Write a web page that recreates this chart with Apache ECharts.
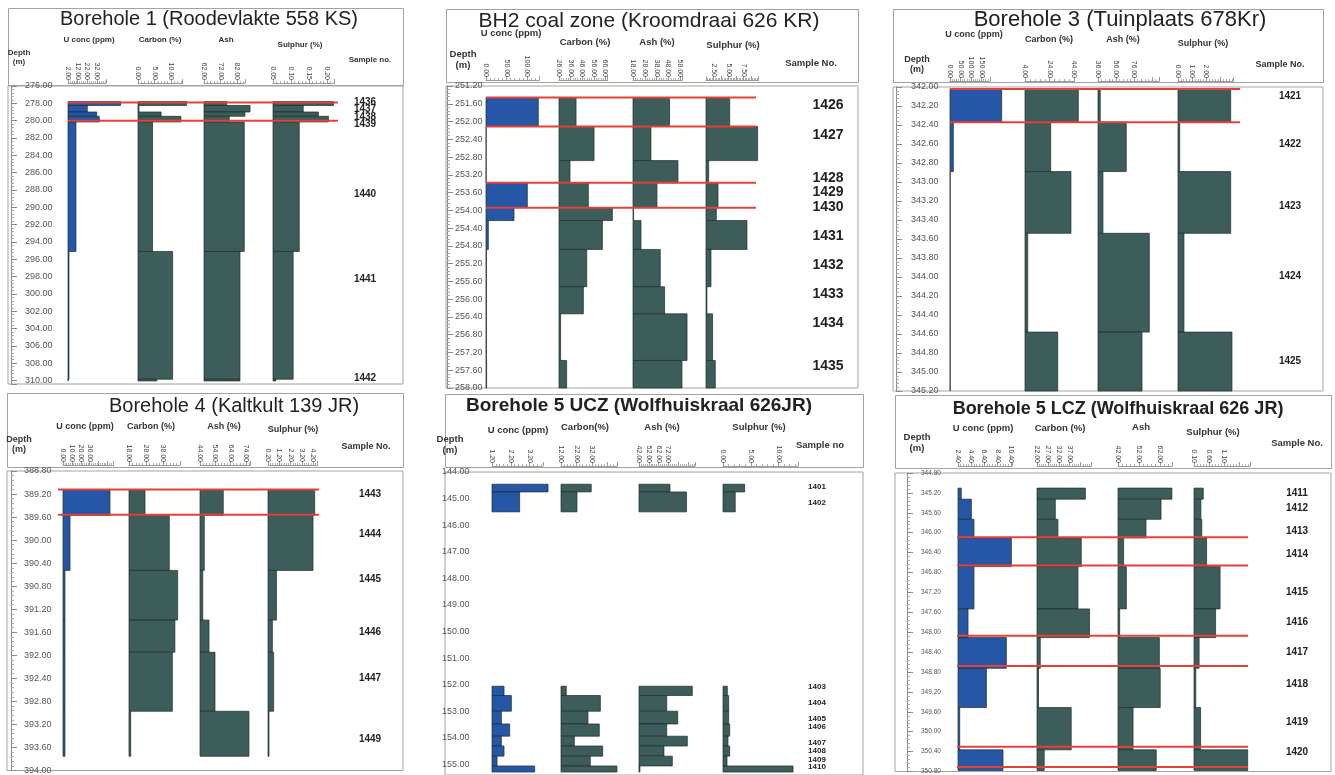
<!DOCTYPE html>
<html>
<head>
<meta charset="utf-8">
<title>Borehole logs</title>
<script src="https://cdn.jsdelivr.net/npm/echarts@6/dist/echarts.min.js"></script>
<style>
  html, body { margin: 0; padding: 0; background: #fff; }
  #main { width: 1335px; height: 775px; }
</style>
</head>
<body>
<div id="main"></div>
<script>
// Borehole 1 (Roodevlakte 558 KS)
var bh1Samples = ['1436', '1437', '1438', '1439', '1440', '1441', '1442'];
var bh1Top = [277.8, 278.25, 279.0, 279.5, 280.15, 295.1, 309.85];
var bh1Bottom = [278.25, 279.0, 279.5, 280.15, 295.1, 309.85, 310.05];
var bh1U = [56.3, 21.9, 31.6, 34.3, 10.2, 3.0, 2.2];
var bh1Carbon = [14.7, 0.3, 7.0, 13.0, 4.4, 10.5, 5.7];
var bh1Ash = [75.7, 89.9, 86.8, 77.3, 86.4, 83.8, 83.8];
var bh1Sulphur = [0.218, 0.134, 0.176, 0.204, 0.123, 0.106, 0.058];
var bh1LabelDepth = [277.85, 278.73, 279.58, 280.46, 288.54, 298.27, 309.7];
var bh1Cuts = [277.9, 280.0];
var bh1UTicks = [2, 12, 22, 32];
var bh1CarbonTicks = [0, 5, 10];
var bh1AshTicks = [62, 72, 82];
var bh1SulphurTicks = [0.05, 0.1, 0.15, 0.2];

// BH2 coal zone (Kroomdraai 626 KR)
var bh2Samples = ['1426', '1427', '1428', '1429', '1430', '1431', '1432', '1433', '1434', '1435'];
var bh2Top = [251.46, 252.11, 252.88, 253.38, 253.94, 254.23, 254.88, 255.72, 256.33, 257.38];
var bh2Bottom = [252.11, 252.88, 253.38, 253.94, 254.23, 254.88, 255.72, 256.33, 257.38, 258.0];
var bh2U = [127.6, 0.5, 0.5, 100.8, 68.3, 5.7, 1.0, 1.0, 1.0, 1.5];
var bh2Carbon = [40.7, 56.2, 35.5, 51.3, 72.0, 63.4, 49.9, 47.0, 27.4, 32.6];
var bh2Ash = [49.0, 33.2, 56.1, 38.3, 18.5, 24.8, 41.1, 44.8, 63.8, 59.5];
var bh2Sulphur = [5.2, 9.85, 1.7, 3.25, 2.97, 8.08, 2.08, 1.4, 2.35, 2.8];
var bh2LabelDepth = [251.64, 252.3, 253.27, 253.59, 253.92, 254.58, 255.23, 255.88, 256.53, 257.5];
var bh2Cuts = [251.46, 252.11, 253.38, 253.94];
var bh2UTicks = [0, 50, 100];
var bh2CarbonTicks = [26, 36, 46, 56, 66];
var bh2AshTicks = [18, 28, 38, 48, 58];
var bh2SulphurTicks = [2.5, 5, 7.5];

// Borehole 3 (Tuinplaats 678Kr)
var bh3Samples = ['1421', '1422', '1423', '1424', '1425'];
var bh3Top = [342.02, 342.37, 342.89, 343.54, 344.58];
var bh3Bottom = [342.37, 342.89, 343.54, 344.58, 345.2];
var bh3U = [246, 16, 1, 1, 1];
var bh3Carbon = [47.2, 24.8, 41.2, 6.2, 30.5];
var bh3Ash = [38.5, 67.4, 41.5, 93.0, 84.9];
var bh3Sulphur = [3.71, 0.12, 3.71, 0.42, 3.8];
var bh3LabelDepth = [342.1, 342.6, 343.25, 343.99, 344.89];
var bh3Cuts = [342.02, 342.37];
var bh3UTicks = [0, 50, 100, 150];
var bh3CarbonTicks = [4, 24, 44];
var bh3AshTicks = [36, 56, 76];
var bh3SulphurTicks = [0, 1, 2];

// Borehole 4 (Kaltkult 139 JR)
var bh4Samples = ['1443', '1444', '1445', '1446', '1447', '1449'];
var bh4Top = [389.12, 389.56, 390.5, 391.35, 391.9, 392.91];
var bh4Bottom = [389.56, 390.5, 391.35, 391.9, 392.91, 393.68];
var bh4U = [52.8, 7.9, 2.2, 2.2, 2.2, 2.2];
var bh4Carbon = [27.4, 41.7, 46.6, 45.0, 43.5, 19.0];
var bh4Ash = [59.2, 46.8, 45.8, 49.9, 53.8, 76.0];
var bh4Sulphur = [4.35, 4.2, 0.95, 0.59, 0.7, 0.29];
var bh4LabelDepth = [389.21, 389.89, 390.68, 391.6, 392.4, 393.46];
var bh4Cuts = [389.12, 389.56];
var bh4UTicks = [0, 10, 20, 30];
var bh4CarbonTicks = [18, 28, 38];
var bh4AshTicks = [44, 54, 64, 74];
var bh4SulphurTicks = [0.2, 1.2, 2.2, 3.2, 4.2];

// Borehole 5 UCZ (Wolfhuiskraal 626JR)
var bh5uSamples = ['1401', '1402', '1403', '1404', '1405', '1406', '1407', '1408', '1409', '1410'];
var bh5uTop = [144.46, 144.75, 152.06, 152.41, 153.0, 153.48, 153.94, 154.31, 154.69, 155.06];
var bh5uBottom = [144.75, 145.5, 152.41, 153.0, 153.48, 153.94, 154.31, 154.69, 155.06, 155.29];
var bh5uU = [4.18, 2.67, 1.84, 2.23, 1.7, 2.14, 1.7, 1.84, 1.47, 3.47];
var bh5uCarbon = [31.5, 22.3, 15.4, 37.4, 29.4, 36.7, 20.6, 38.9, 30.9, 48.1];
var bh5uAsh = [73.6, 90.5, 96.4, 70.3, 81.5, 70.3, 91.3, 67.5, 76.0, 43.0];
var bh5uSulphur = [3.9, 2.2, 0.78, 1.02, 1.02, 1.2, 0.9, 1.2, 0.72, 12.6];
var bh5uLabelDepth = [144.56, 145.16, 152.1, 152.69, 153.29, 153.6, 154.19, 154.5, 154.81, 155.09];
var bh5uCuts = [];
var bh5uUTicks = [1.2, 2.2, 3.2];
var bh5uCarbonTicks = [12, 22, 32];
var bh5uAshTicks = [42, 52, 62, 72];
var bh5uSulphurTicks = [0, 5, 10];

// Borehole 5 LCZ (Wolfhuiskraal 626 JR)
var bh5lSamples = ['1411', '1412', '1413', '1414', '1415', '1416', '1417', '1418', '1419', '1420'];
var bh5lTop = [345.1, 345.32, 345.72, 346.09, 346.66, 347.5, 348.07, 348.68, 349.46, 350.3];
var bh5lBottom = [345.32, 345.72, 346.09, 346.66, 347.5, 348.07, 348.68, 349.46, 350.3, 350.71];
var bh5lU = [2.9, 4.43, 4.82, 10.49, 4.82, 3.92, 9.73, 6.7, 2.66, 9.22];
var bh5lCarbon = [44.2, 30.4, 31.6, 42.3, 40.8, 46.1, 23.5, 22.7, 37.7, 25.3];
var bh5lAsh = [67.8, 62.6, 55.4, 44.7, 46.0, 42.8, 61.8, 62.2, 49.2, 60.3];
var bh5lSulphur = [0.41, 0.33, 0.36, 0.52, 0.97, 0.82, 0.27, 0.16, 0.32, 1.89];
var bh5lLabelDepth = [345.2, 345.51, 345.97, 346.43, 347.2, 347.81, 348.41, 349.04, 349.8, 350.41];
var bh5lCuts = [346.09, 346.66, 348.07, 348.68, 350.3, 350.71];
var bh5lUTicks = [2.4, 4.4, 6.4, 8.4, 10.4];
var bh5lCarbonTicks = [22, 27, 32, 37];
var bh5lAshTicks = [42, 52, 62];
var bh5lSulphurTicks = [0.1, 0.6, 1.1];

// ---------- layout ----------
// cols: [left px, px per unit, axis min, axis max, tick step]
var panels = [
  {
    title: 'Borehole 1 (Roodevlakte 558 KS)', titleAt: [209, 19], titleFont: '20px',
    head: [8, 8, 395, 77], plot: [8, 86, 395, 298],
    depth: [276, 310.4, 2], axisOffset: -3, axisMargin: 14, depthSize: 9, axisLine: true,
    heads: [['U conc (ppm)', 89, 40], ['Carbon (%)', 160, 40], ['Ash', 226, 40], ['Sulphur (%)', 300, 45], ['Sample no.', 370, 60], ['Depth\n(m)', 19, 57]],
    headSize: 8, tickSize: 7, rulerGap: 3,
    cols: [[68, 0.97, 2, 41, 10], [138, 3.3, 0, 13.5, 5], [204, 1.65, 62, 87, 10], [273, 360, 0.05, 0.22, 0.05]],
    sampleX: 365, sampleSize: 10, cutX: [68, 338],
    samples: bh1Samples, top: bh1Top, bottom: bh1Bottom, labelDepth: bh1LabelDepth, cuts: bh1Cuts,
    values: [bh1U, bh1Carbon, bh1Ash, bh1Sulphur],
    ticks: [bh1UTicks, bh1CarbonTicks, bh1AshTicks, bh1SulphurTicks]
  },
  {
    title: 'BH2 coal zone (Kroomdraai 626 KR)', titleAt: [649, 21], titleFont: '21px',
    head: [446, 9, 412, 73], plot: [446, 86, 412, 302],
    depth: [251.2, 258.0, 0.4], axisOffset: -1, axisMargin: 8, depthSize: 9, axisLine: true,
    heads: [['U conc (ppm)', 511, 33], ['Carbon (%)', 585, 42], ['Ash (%)', 657, 42], ['Sulphur (%)', 733, 45], ['Sample No.', 811, 63], ['Depth\n(m)', 463, 60]],
    headSize: 9.5, tickSize: 7, rulerGap: 6,
    cols: [[486, 0.41, 0, 130, 50], [559, 1.16, 26, 68, 10], [633, 1.18, 18, 60, 10], [706, 6, 1.25, 10, 1.25]],
    sampleX: 828, sampleSize: 14, cutX: [486, 756],
    samples: bh2Samples, top: bh2Top, bottom: bh2Bottom, labelDepth: bh2LabelDepth, cuts: bh2Cuts,
    values: [bh2U, bh2Carbon, bh2Ash, bh2Sulphur],
    ticks: [bh2UTicks, bh2CarbonTicks, bh2AshTicks, bh2SulphurTicks]
  },
  {
    title: 'Borehole 3 (Tuinplaats 678Kr)', titleAt: [1120, 20], titleFont: '22px',
    head: [893, 9, 430, 73], plot: [893, 87, 430, 304],
    depth: [342.0, 345.2, 0.2], axisOffset: -3, axisMargin: 15, depthSize: 9, axisLine: true,
    heads: [['U conc (ppm)', 974, 35], ['Carbon (%)', 1049, 40], ['Ash (%)', 1123, 40], ['Sulphur (%)', 1203, 44], ['Sample No.', 1280, 65], ['Depth\n(m)', 917, 65]],
    headSize: 9, tickSize: 7, rulerGap: 6,
    cols: [[950, 0.21, 0, 190, 50], [1025, 1.235, 4, 44, 20], [1098, 0.9, 36, 104, 20], [1178, 14.2, 0, 3.9, 1]],
    sampleX: 1290, sampleSize: 10, cutX: [950, 1240],
    samples: bh3Samples, top: bh3Top, bottom: bh3Bottom, labelDepth: bh3LabelDepth, cuts: bh3Cuts,
    values: [bh3U, bh3Carbon, bh3Ash, bh3Sulphur],
    ticks: [bh3UTicks, bh3CarbonTicks, bh3AshTicks, bh3SulphurTicks]
  },
  {
    title: 'Borehole 4 (Kaltkult 139 JR)', titleAt: [234, 406], titleFont: '20px',
    head: [7, 393, 396, 74], plot: [7, 471, 396, 306],
    depth: [388.8, 394.0, 0.4], axisOffset: -4, axisMargin: 13, depthSize: 9, axisLine: true,
    heads: [['U conc (ppm)', 85, 427], ['Carbon (%)', 151, 427], ['Ash (%)', 224, 427], ['Sulphur (%)', 293, 430], ['Sample No.', 366, 447], ['Depth\n(m)', 19, 445]],
    headSize: 9, tickSize: 7, rulerGap: 6,
    cols: [[63, 0.89, 0, 57, 10], [129, 1.7, 18, 48, 10], [200, 1.53, 44, 77, 10], [268, 11.25, 0.2, 4.6, 1]],
    sampleX: 370, sampleSize: 10, cutX: [58, 319],
    samples: bh4Samples, top: bh4Top, bottom: bh4Bottom, labelDepth: bh4LabelDepth, cuts: bh4Cuts,
    values: [bh4U, bh4Carbon, bh4Ash, bh4Sulphur],
    ticks: [bh4UTicks, bh4CarbonTicks, bh4AshTicks, bh4SulphurTicks]
  },
  {
    title: 'Borehole 5 UCZ (Wolfhuiskraal 626JR)', titleAt: [639, 406], titleFont: 'bold 19px',
    head: [445, 394, 418, 73], plot: [445, 472, 418, 304],
    depth: [144, 155.4, 1], axisOffset: 3, axisMargin: 0, depthSize: 9, axisLine: false,
    heads: [['U conc (ppm)', 518, 430], ['Carbon(%)', 585, 427], ['Ash (%)', 662, 427], ['Sulphur (%)', 759, 427], ['Sample no', 820, 445], ['Depth\n(m)', 450, 445]],
    headSize: 9.5, tickSize: 7, rulerGap: 6,
    cols: [[492, 18.8, 1.2, 3.9, 1], [561, 1.55, 12, 48, 10], [639, 0.98, 42, 99, 10], [723, 5.56, 0, 13.5, 5]],
    sampleX: 817, sampleSize: 8, cutX: [492, 800],
    samples: bh5uSamples, top: bh5uTop, bottom: bh5uBottom, labelDepth: bh5uLabelDepth, cuts: bh5uCuts,
    values: [bh5uU, bh5uCarbon, bh5uAsh, bh5uSulphur],
    ticks: [bh5uUTicks, bh5uCarbonTicks, bh5uAshTicks, bh5uSulphurTicks]
  },
  {
    title: 'Borehole 5 LCZ (Wolfhuiskraal 626 JR)', titleAt: [1118, 409], titleFont: 'bold 18px',
    head: [895, 395, 436, 73], plot: [895, 473, 436, 305],
    depth: [344.8, 350.8, 0.4], axisOffset: -12, axisMargin: 14, depthSize: 6.5, axisLine: true,
    heads: [['U conc (ppm)', 983, 428], ['Carbon (%)', 1060, 428], ['Ash', 1141, 427], ['Sulphur (%)', 1213, 432], ['Sample No.', 1297, 443], ['Depth\n(m)', 917, 443]],
    headSize: 9.5, tickSize: 7, rulerGap: 7,
    cols: [[958, 6.6, 2.4, 10.6, 2], [1037, 2.18, 22, 47, 5], [1118, 2.09, 42, 68, 10], [1194, 30, 0.1, 1.97, 0.5]],
    sampleX: 1297, sampleSize: 10, cutX: [957, 1248],
    samples: bh5lSamples, top: bh5lTop, bottom: bh5lBottom, labelDepth: bh5lLabelDepth, cuts: bh5lCuts,
    values: [bh5lU, bh5lCarbon, bh5lAsh, bh5lSulphur],
    ticks: [bh5lUTicks, bh5lCarbonTicks, bh5lAshTicks, bh5lSulphurTicks]
  }
];

var FONT = '"Liberation Sans", Arial, sans-serif';
var BLUE = '#2657a6';
var TEAL = '#3d5d5a';
var EDGE = '#1e2c2b';
var RED = '#e5413b';
var FRAME = '#a3a3a3';

function depthLabels(d) {
  var out = [];
  var n = Math.floor((d[1] - d[0]) / d[2] + 1e-6);
  for (var i = 0; i <= n; i++) out.push(+(d[0] + i * d[2]).toFixed(4));
  return out;
}

function barRenderer(min, color) {
  return function (params, api) {
    var a = api.coord([min, api.value(0)]);
    var b = api.coord([api.value(2), api.value(1)]);
    return {
      type: 'rect',
      shape: { x: a[0], y: a[1], width: b[0] - a[0], height: b[1] - a[1] },
      style: { fill: color, stroke: EDGE, lineWidth: 0.7 }
    };
  };
}

var grids = [], xAxes = [], yAxes = [], series = [], graphics = [];

panels.forEach(function (p) {
  var px = p.plot[0], py = p.plot[1], pw = p.plot[2], ph = p.plot[3];

  // header frame, title and column headings
  graphics.push({
    type: 'rect', silent: true,
    shape: { x: p.head[0] + 0.5, y: p.head[1] + 0.5, width: p.head[2], height: p.head[3] },
    style: { fill: 'none', stroke: FRAME, lineWidth: 1 }
  });
  graphics.push({
    type: 'text', x: p.titleAt[0], y: p.titleAt[1],
    style: { text: p.title, font: p.titleFont + ' ' + FONT, fill: '#222',
      align: 'center', verticalAlign: 'middle', textAlign: 'center', textVerticalAlign: 'middle' }
  });
  p.heads.forEach(function (h) {
    graphics.push({
      type: 'text', x: h[1], y: h[2],
      style: { text: h[0], font: 'bold ' + p.headSize + 'px ' + FONT, fill: '#333',
        align: 'center', verticalAlign: 'middle', textAlign: 'center', textVerticalAlign: 'middle', lineHeight: p.headSize + 1 }
    });
  });

  // panel frame with the depth axis, cut lines and sample numbers
  var gi = grids.length;
  grids.push({ left: px, top: py, width: pw, height: ph, show: true, borderColor: FRAME, borderWidth: 1, backgroundColor: 'transparent' });
  xAxes.push({ gridIndex: gi, type: 'value', min: 0, max: pw, show: false });
  yAxes.push({
    gridIndex: gi, type: 'value', inverse: true,
    min: p.depth[0], max: p.depth[1], interval: p.depth[2],
    position: 'left', offset: p.axisOffset,
    axisLine: { show: p.axisLine, lineStyle: { color: '#8a8a8a' } },
    axisTick: { show: p.axisLine, inside: true, length: 6, lineStyle: { color: '#8a8a8a' } },
    minorTick: { show: p.axisLine, splitNumber: 5, length: 3, lineStyle: { color: '#aaa' } },
    axisLabel: { inside: true, margin: p.axisMargin, fontSize: p.depthSize, color: '#555', fontFamily: FONT,
      customValues: depthLabels(p.depth), formatter: function (v) { return v.toFixed(2); } },
    splitLine: { show: false }
  });

  // bars, one grid per column
  p.cols.forEach(function (c, k) {
    var ci = grids.length;
    grids.push({ left: c[0], top: py, width: (c[3] - c[2]) * c[1], height: ph });
    xAxes.push({
      gridIndex: ci, type: 'value', position: 'top', offset: p.rulerGap,
      min: c[2], max: c[3], interval: c[4],
      axisLine: { show: true, lineStyle: { color: '#9a9a9a', width: 1 } },
      axisTick: { show: true, length: 4, lineStyle: { color: '#9a9a9a' } },
      minorTick: { show: true, splitNumber: 5, length: 2, lineStyle: { color: '#b0b0b0' } },
      axisLabel: { customValues: p.ticks[k], rotate: 90, fontSize: p.tickSize, color: '#444', margin: 3, fontFamily: FONT,
        formatter: function (v) { return v.toFixed(2); } },
      splitLine: { show: false }
    });
    yAxes.push({ gridIndex: ci, type: 'value', inverse: true, min: p.depth[0], max: p.depth[1], show: false });
    var rows = p.top.map(function (t, i) { return [t, p.bottom[i], p.values[k][i]]; });
    series.push({
      type: 'custom', xAxisIndex: ci, yAxisIndex: ci, clip: false, z: 3,
      encode: { x: 2, y: [0, 1] },
      data: rows,
      renderItem: barRenderer(c[2], k === 0 ? BLUE : TEAL)
    });
  });

  if (p.cuts.length) {
    series.push({
      type: 'custom', xAxisIndex: gi, yAxisIndex: gi, clip: false, z: 5,
      encode: { x: [0, 1], y: 2 },
      data: p.cuts.map(function (d) { return [p.cutX[0] - px, p.cutX[1] - px, d]; }),
      renderItem: function (params, api) {
        var a = api.coord([api.value(0), api.value(2)]);
        var b = api.coord([api.value(1), api.value(2)]);
        return { type: 'line', shape: { x1: a[0], y1: a[1], x2: b[0], y2: a[1] }, style: { stroke: RED, lineWidth: 2 } };
      }
    });
  }

  series.push({
    type: 'custom', xAxisIndex: gi, yAxisIndex: gi, clip: false, z: 6,
    data: p.labelDepth.map(function (d) { return [p.sampleX - px, d]; }),
    renderItem: function (params, api) {
      var pt = api.coord([api.value(0), api.value(1)]);
      return {
        type: 'text', x: pt[0], y: pt[1],
        style: { text: p.samples[params.dataIndex], font: 'bold ' + p.sampleSize + 'px ' + FONT, fill: '#222',
          align: 'center', verticalAlign: 'middle' }
      };
    }
  });
});

var chart = echarts.init(document.getElementById('main'));
var option = {
  backgroundColor: '#fff',
  animation: false,
  grid: grids,
  xAxis: xAxes,
  yAxis: yAxes,
  graphic: graphics,
  series: series
};
chart.setOption(option);
</script>
</body>
</html>
